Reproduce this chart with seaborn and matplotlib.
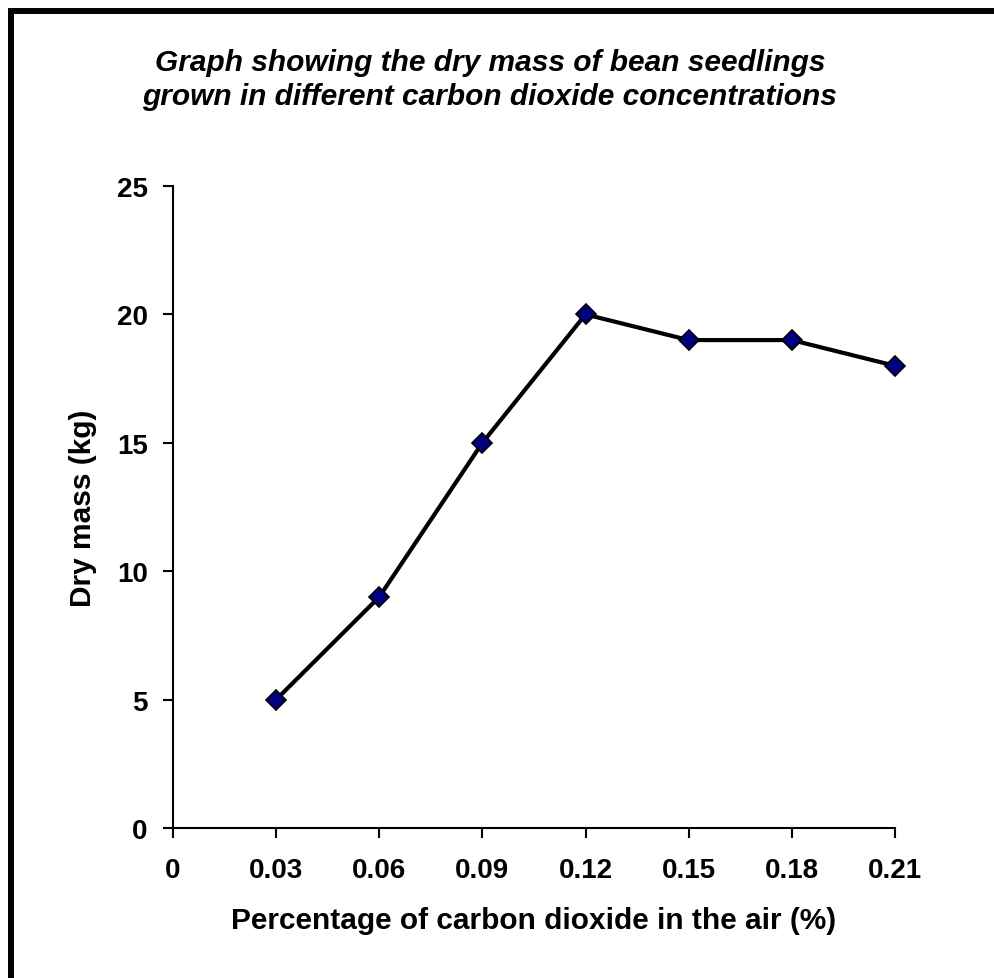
import matplotlib
matplotlib.use("Agg")
import matplotlib.pyplot as plt
import matplotlib.patches as patches
import seaborn as sns
import pandas as pd

# data
co2_percent = [0.03, 0.06, 0.09, 0.12, 0.15, 0.18, 0.21]
dry_mass = [5, 9, 15, 20, 19, 19, 18]
x_ticks = [0, 0.03, 0.06, 0.09, 0.12, 0.15, 0.18, 0.21]
x_tick_labels = ["0", "0.03", "0.06", "0.09", "0.12", "0.15", "0.18", "0.21"]
y_ticks = [0, 5, 10, 15, 20, 25]

df = pd.DataFrame({"co2": co2_percent, "mass": dry_mass})

sns.set_style("ticks")
plt.rcParams["font.family"] = ["Liberation Sans", "DejaVu Sans"]
plt.rcParams["text.color"] = "black"
plt.rcParams["axes.labelcolor"] = "black"
plt.rcParams["xtick.color"] = "black"
plt.rcParams["ytick.color"] = "black"

fig = plt.figure(figsize=(9.95, 9.79), dpi=100)
ax = fig.add_axes([0.1739, 0.1532, 0.7255, 0.6558])

sns.lineplot(data=df, x="co2", y="mass", ax=ax, color="black", linewidth=3,
             marker="D", markersize=10, markerfacecolor="#000080",
             markeredgecolor="black", markeredgewidth=1.2, clip_on=False)

ax.set_xlim(0, 0.21)
ax.set_ylim(0, 25)
ax.set_xticks(x_ticks)
ax.set_xticklabels(x_tick_labels, fontsize=20, fontweight="bold")
ax.set_yticks(y_ticks)
ax.set_yticklabels([str(v) for v in y_ticks], fontsize=20, fontweight="bold")
ax.tick_params(axis="both", direction="out", length=7.2, width=1.5, color="black")
ax.tick_params(axis="y", pad=11)
ax.tick_params(axis="x", pad=14)

for side in ["top", "right"]:
    ax.spines[side].set_visible(False)
for side in ["left", "bottom"]:
    ax.spines[side].set_color("black")
    ax.spines[side].set_linewidth(1.5)

ax.set_xlabel("Percentage of carbon dioxide in the air (%)", fontsize=21.5,
              fontweight="bold", labelpad=16)
ax.set_ylabel("Dry mass (kg)", fontsize=21.5, fontweight="bold", labelpad=14)

fig.text(0.4925, 0.918, "Graph showing the dry mass of bean seedlings\ngrown in different carbon dioxide concentrations",
         ha="center", va="center", fontsize=21.5, fontweight="bold", style="italic",
         linespacing=1.28)

# black frame around the chart; only the left and top edges fall inside the image
frame = patches.Rectangle((0.0106, -0.2), 1.2, 0.9877 + 0.2,
                          transform=fig.transFigure, fill=False,
                          edgecolor="black", linewidth=4.3)
fig.patches.append(frame)

fig.savefig("out.png", dpi=100)
